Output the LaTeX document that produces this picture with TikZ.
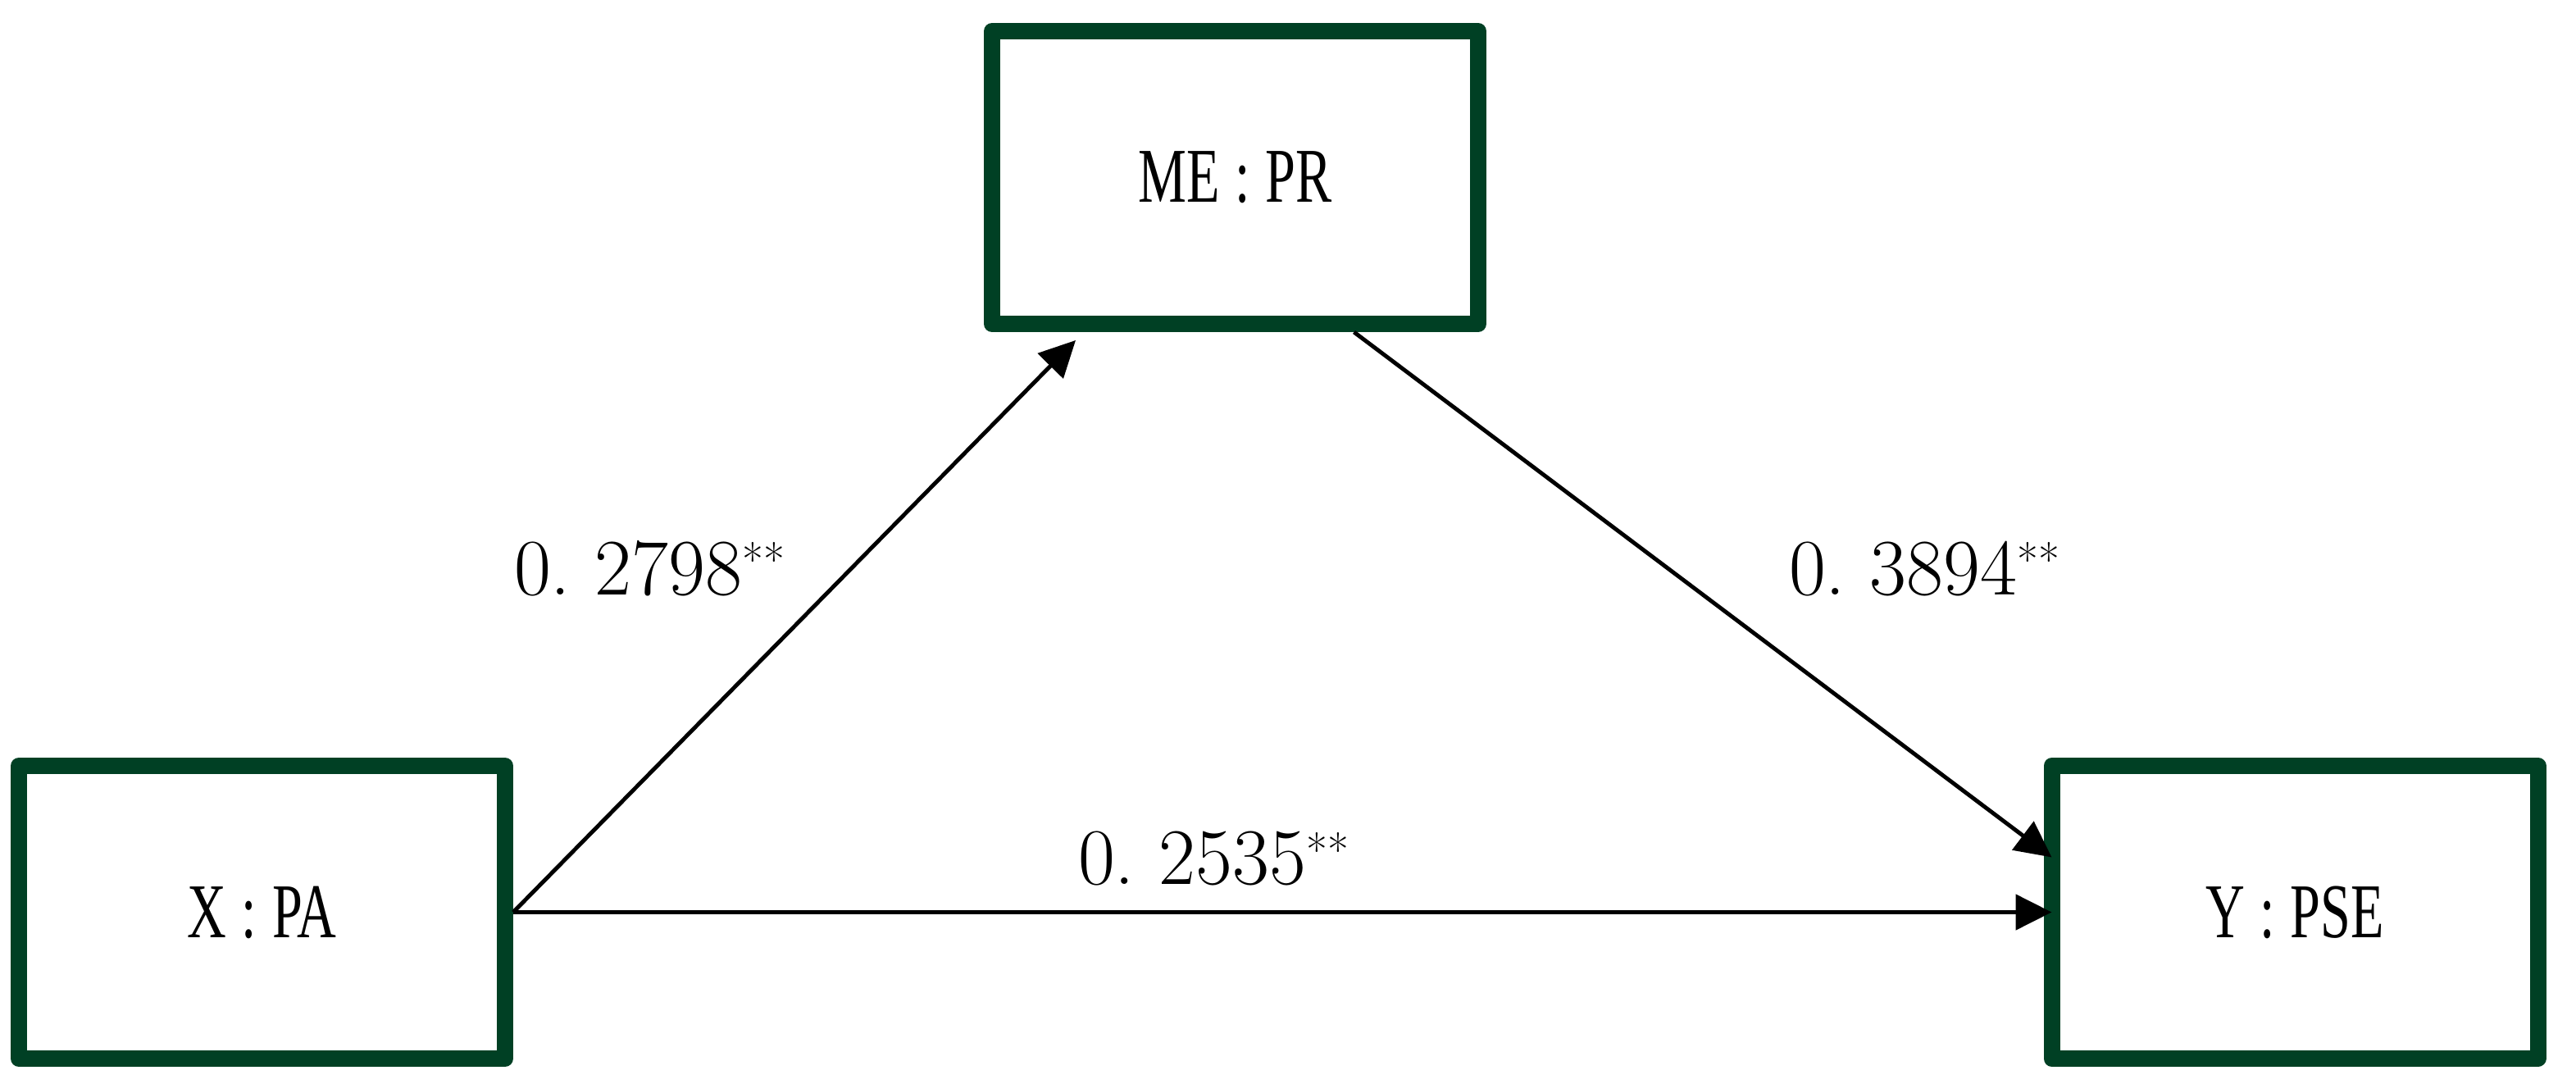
\documentclass[tikz,border=0pt]{standalone}
\usepackage{fontspec}
\usetikzlibrary{arrows.meta,calc}
\newfontfamily\boxfont[FakeStretch=0.7]{Liberation Serif}
\definecolor{boxgreen}{RGB}{0,64,36}
\newcommand{\cln}{\hspace{0.2em}:\hspace{0.2em}}
\newcommand{\sig}{\raisebox{0.21cm}{\fontsize{16}{16}\selectfont **}}
\tikzset{
 var/.style={draw=boxgreen,line width=0.2cm,line join=round,fill=white,
  minimum width=5.93cm,minimum height=3.57cm,inner sep=0pt,
  font=\boxfont\fontsize{26.9}{30}\selectfont},
 effect/.style={line width=1.4pt,-{Triangle[length=4.4mm,width=4.3mm]}},
 coef/.style={anchor=base,inner sep=0pt,font=\fontsize{27.8}{32}\selectfont}
}
\begin{document}
\begin{tikzpicture}
 \useasboundingbox (0,0) rectangle (31.42,13.21);
 \node[var] (X) at (3.195,2.085) {X\cln PA};
 \node[var] (Y) at (27.99,2.085) {Y\cln PSE};
 \node[var] (M) at (15.065,11.045) {ME\cln PR};

 \coordinate (Min) at ($(M.south west)+(1.12,-0.1)$);
 \coordinate (Mout) at ($(M.south)+(1.45,0)$);
 \coordinate (Yin) at ($(Y.west)+(0.1,0.67)$);

 \draw[effect] (X.east) -- (Min);
 \draw[effect] (Mout) -- (Yin);
 \draw[effect] (X.east) -- ([xshift=1mm]Y.west);

 \node[coef] (a) at (7.92,5.96) {0.~2798\sig};
 \node[coef] (b) at (23.47,5.96) {0.~3894\sig};
 \node[coef] (c) at (14.80,2.43) {0.~2535\sig};
\end{tikzpicture}
\end{document}
